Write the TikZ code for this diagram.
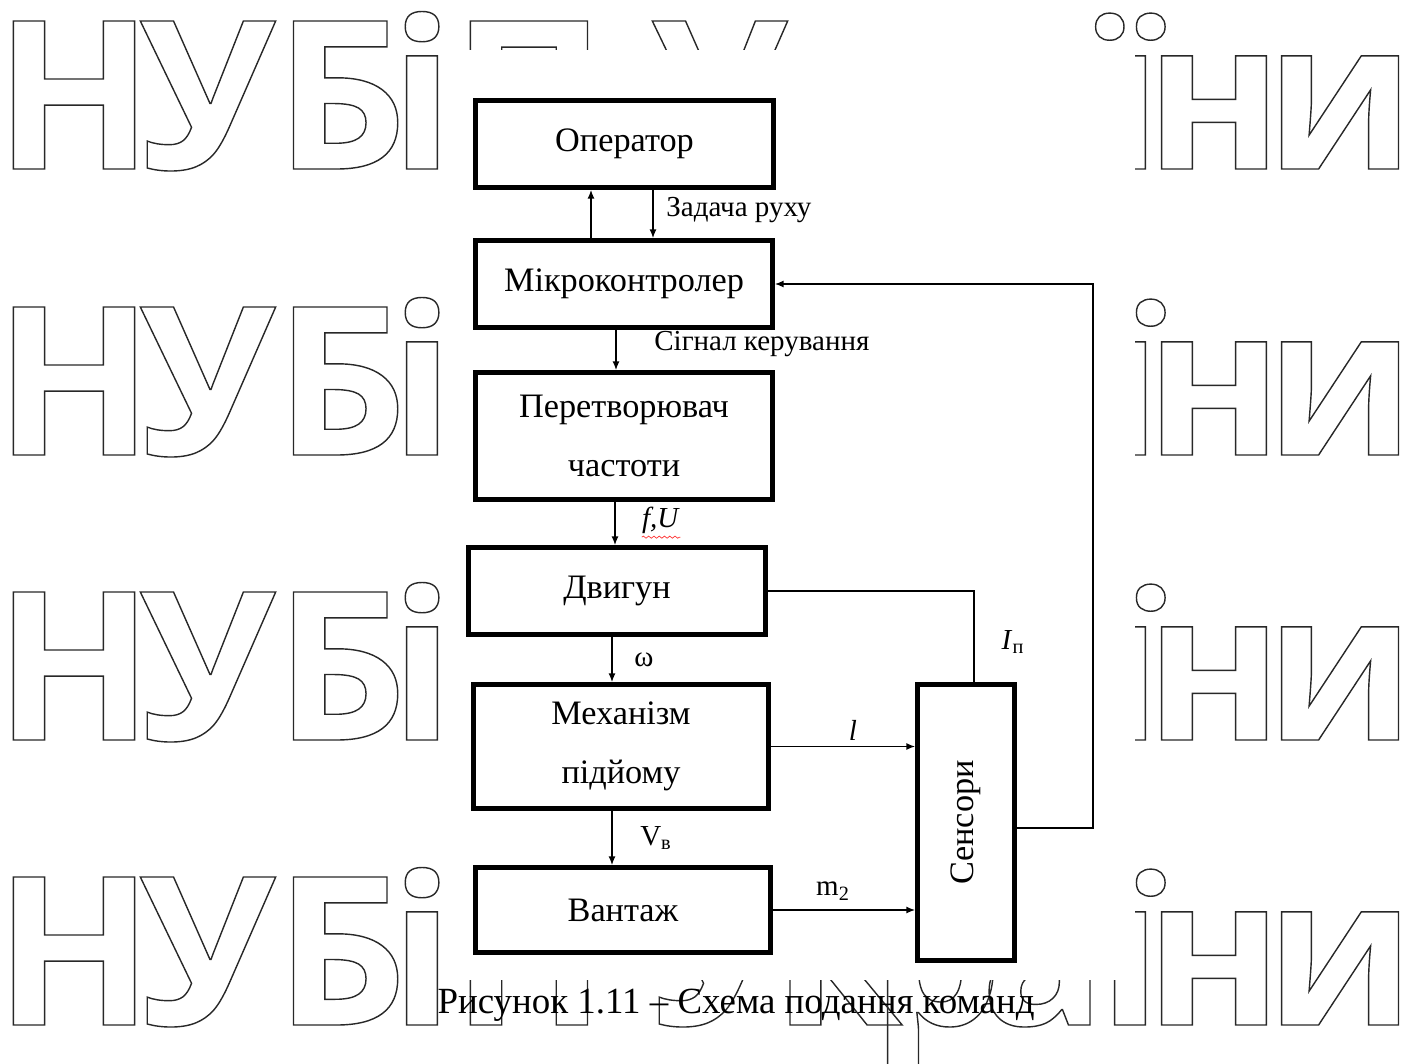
\documentclass[tikz,border=0pt]{standalone}
\usepackage{fontspec}
\setmainfont{Liberation Serif}
\newfontfamily\wmfamily{Open Sans}
\usetikzlibrary{arrows.meta,decorations.pathmorphing}
\definecolor{wmc}{RGB}{40,40,40}
\newcommand\wmg[1]{{\wmfamily\bfseries\fontsize{118}{118}\selectfont\color{wmc}\special{pdf:literal direct 1 Tr 0.8 w}#1\special{pdf:literal direct 0 Tr}}}
\newcommand\boxfont{\fontsize{19.5}{33.5}\selectfont}
\newcommand\labfont{\fontsize{16.5}{19}\selectfont}
\tikzset{
  box/.style={draw, line width=3pt, inner sep=0pt, align=center, font=\boxfont},
  arr/.style={line width=0.8pt, -{Latex[length=5pt,width=4pt]}},
  conn/.style={line width=0.7pt},
  lab/.style={inner sep=0pt, font=\labfont},
  wm/.style={anchor=base, inner sep=0pt}
}
\begin{document}
\begin{tikzpicture}[x=0.02cm,y=-0.02cm]
\fill[white] (0,0) rectangle (1410,1064);
\useasboundingbox (0,0) rectangle (1410,1064);
% watermark: side glyphs in every row
\foreach \b in {169,455,740,1025}{
  \foreach \g/\cx in {Н/74,У/208,Б/341,і/422,ї/1130,н/1214,и/1340}{
    \node[wm] (wm-\b-\cx) at (\cx,\b) {\wmg{\g}};
  }
}
% watermark: middle glyphs, only where they show (top and bottom rows)
\begin{scope}
\clip (445,0) rectangle (1135,50);
\foreach \g/\cx in {П/529,У/720,к/838,р/937,а/1043}{
  \node[wm] (wmt-\cx) at (\cx,169) {\wmg{\g}};
}
\end{scope}
\begin{scope}
\clip (445,980) rectangle (1135,1064);
\foreach \g/\cx in {П/529,У/720,к/838,р/937,а/1043}{
  \node[wm] (wmb-\cx) at (\cx,1025) {\wmg{\g}};
}
\end{scope}
\fill[white] (445,50) rectangle (1135,980);
% boxes
\node[box, minimum width=5.95cm, minimum height=1.73cm] (op) at (624.5,144) {Оператор};
\node[box, minimum width=5.93cm, minimum height=1.73cm] (mc) at (624,284) {Мікроконтролер};
\node[box, minimum width=5.93cm, minimum height=2.53cm] (pc) at (624,436) {Перетворювач\\частоти};
\node[box, minimum width=5.93cm, minimum height=1.73cm] (dv) at (617,591) {Двигун};
\node[box, minimum width=5.89cm, minimum height=2.47cm] (mh) at (621,746.5) {Механізм\\підйому};
\node[box, minimum width=5.89cm, minimum height=1.69cm] (vt) at (623,910) {Вантаж};
\node[box, minimum width=1.93cm, minimum height=5.51cm] (sn) at (966,822.5) {};
\node[inner sep=0pt, font=\boxfont, rotate=90] (sntext) at (sn.center) {Сенсори};
% connectors
\draw[arr] ([xshift=-0.66cm]mc.north) -- ([xshift=-0.66cm]mc.north |- op.south);
\draw[arr] ([xshift=0.57cm]op.south) -- ([xshift=0.57cm]op.south |- mc.north);
\draw[arr] ([xshift=-0.16cm]mc.south) -- ([xshift=-0.16cm]mc.south |- pc.north);
\draw[arr] ([xshift=-0.18cm]pc.south) -- ([xshift=-0.18cm]pc.south |- dv.north);
\draw[arr] ([xshift=-0.10cm]dv.south) -- ([xshift=-0.10cm]dv.south |- mh.north);
\draw[arr] ([xshift=-0.18cm]mh.south) -- ([xshift=-0.18cm]mh.south |- vt.north);
\draw[conn] (dv.east) -| ([xshift=0.16cm]sn.north);
\draw[arr] (mh.east) -- (mh.east -| sn.west);
\draw[arr] (vt.east) -- (vt.east -| sn.west);
\draw[arr] ([yshift=-0.11cm]sn.east) -- ++(1.52cm,0) |- (mc.east);
% labels
\node[lab, anchor=west] (l1) at (666,210) {Задача руху};
\node[lab, anchor=west] (l2) at (654,344) {Сігнал керування};
\node[lab] (l3) at (661,520) {\textit{f,U}};
\draw[red!80, line width=0.4pt, decorate, decoration={snake, amplitude=0.6pt, segment length=3pt}] ([yshift=-2pt]l3.south west) -- ([yshift=-2pt]l3.south east);
\node[lab] (l4) at (644,660) {ω};
\node[lab] (l5) at (656,838) {V\textsubscript{в}};
\node[lab] (l6) at (853,730) {\textit{l}};
\node[lab] (l7) at (1013,642) {\textit{I}\textsubscript{п}};
\node[lab] (l8) at (833,891) {m\textsubscript{2}};
% caption
\node[inner sep=0pt, font=\fontsize{21}{24}\selectfont] (cap) at (736,1005) {Рисунок 1.11 – Схема подання команд};
\end{tikzpicture}
\end{document}
